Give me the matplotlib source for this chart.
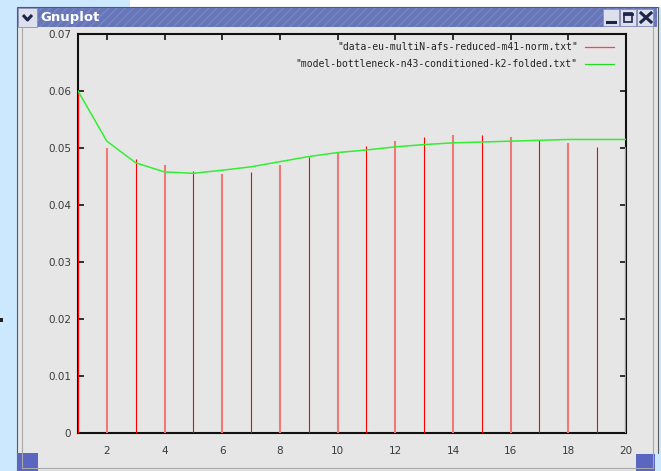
import matplotlib
matplotlib.use("Agg")
import matplotlib.pyplot as plt
from matplotlib.patches import Rectangle

# data
x = list(range(1, 21))
data_vals = [0.0598, 0.0500, 0.0481, 0.0470, 0.0460, 0.04545, 0.0458, 0.0470,
             0.0485, 0.0492, 0.05035, 0.0512, 0.0520, 0.0523, 0.0523, 0.0519,
             0.0514, 0.0508, 0.0501, 0.0501]
model_vals = [0.0600, 0.0512, 0.0474, 0.0458, 0.04556, 0.0461, 0.0467, 0.0476,
              0.0485, 0.0492, 0.04965, 0.0502, 0.0506, 0.0509, 0.05105, 0.0512,
              0.05135, 0.0515, 0.0515, 0.0515]
series_names = ['"data-eu-multiN-afs-reduced-m41-norm.txt"',
                '"model-bottleneck-n43-conditioned-k2-folded.txt"']
xticks = list(range(2, 21, 2))
yticks = [0, 0.01, 0.02, 0.03, 0.04, 0.05, 0.06, 0.07]
ytick_labels = ["0", "0.01", "0.02", "0.03", "0.04", "0.05", "0.06", "0.07"]

W, H = 661, 471
fig = plt.figure(figsize=(W / 100, H / 100), dpi=100)

# window chrome, drawn in pixel coordinates
bg = fig.add_axes([0, 0, 1, 1])
bg.set_xlim(0, W)
bg.set_ylim(H, 0)
bg.axis("off")

def box(x0, y0, w, h, fc, ec="none", lw=0, **kw):
    bg.add_patch(Rectangle((x0, y0), w, h, facecolor=fc, edgecolor=ec, linewidth=lw, **kw))

box(0, 0, W, H, "#cce8ff")                 # desktop
box(130, 0, W - 130, 7, "#ffffff")
box(17, 7, 641, H - 7, "#e6e6e6", ec="#5a5a5a", lw=0.8)   # window body
box(18, 8, 639, 19, "#6676b8", ec="#7886c2", lw=0, hatch="////")  # title bar
box(18, 8, 19, 19, "#dde0ec", ec="#8890b8", lw=0.6)        # menu button
bg.plot([23, 27.5, 32], [15, 20, 15], color="#1c2448", lw=2.2,
        solid_capstyle="butt")
bg.text(40, 17.5, "Gnuplot", ha="left", va="center", fontsize=9.5,
        fontweight="bold", color="white", family="DejaVu Sans")
for bx in [603, 620, 637]:
    box(bx, 9, 16, 17, "#dde0ec", ec="#8890b8", lw=0.6)
# minimise / maximise / close symbols
bg.plot([607, 615], [22, 22], color="#1c2448", lw=2.2)
box(624, 13, 8, 9, "none", ec="#1c2448", lw=1.2)
bg.plot([624, 632], [13.5, 13.5], color="#1c2448", lw=2.0)
bg.plot([641, 651], [13, 22], color="#1c2448", lw=2.2)
bg.plot([641, 651], [22, 13], color="#1c2448", lw=2.2)
bg.plot([22, 22], [27, 468], color="#a8a8a8", lw=0.8)
bg.plot([653, 653], [27, 468], color="#a8a8a8", lw=0.8)
bg.plot([22, 653], [468, 468], color="#a8a8a8", lw=0.8)
box(17, 453, 21, 18, "#5a66c0")
box(636, 454, 19, 17, "#5a66c0")
box(655, 454, 6, 17, "#cce8ff")
box(0, 318, 3, 4, "#222222")

# plot area
ax = fig.add_axes([78 / W, 1 - 433 / H, 548 / W, 399 / H])
ax.set_facecolor("none")
for xi, yi in zip(x, data_vals):
    if xi % 2:
        ax.vlines(xi, 0, yi, color="#ff0000", lw=0.8, zorder=2)
    else:
        ax.vlines(xi, 0, yi, color="#f07878", lw=1.5, zorder=2)
ax.plot(x, model_vals, color="#33ee33", lw=1.1, zorder=3)

ax.set_xlim(1, 20)
ax.set_ylim(0, 0.07)
ax.set_xticks(xticks)
ax.set_xticklabels([str(t) for t in xticks])
ax.set_yticks(yticks)
ax.set_yticklabels(ytick_labels)
ax.tick_params(direction="in", length=4, width=1.2, color="#111111",
               top=True, right=True, labelsize=7.5, labelcolor="#3a3a3a")
ax.tick_params(axis="x", pad=9)
ax.tick_params(axis="y", pad=5)
for s in ax.spines.values():
    s.set_linewidth(1.5)
    s.set_color("#111111")
    s.set_zorder(1)

# gnuplot style key, top right
key_colors = ["#ff4444", "#22dd22"]
key_y = [0.967, 0.925]
for name, c, ky in zip(series_names, key_colors, key_y):
    ax.text(0.912, ky, name, transform=ax.transAxes, ha="right", va="center",
            fontsize=7, family="DejaVu Sans Mono", color="#222222")
    ax.plot([0.925, 0.978], [ky, ky], transform=ax.transAxes, color=c, lw=0.9)

fig.savefig("out.png", dpi=100)
